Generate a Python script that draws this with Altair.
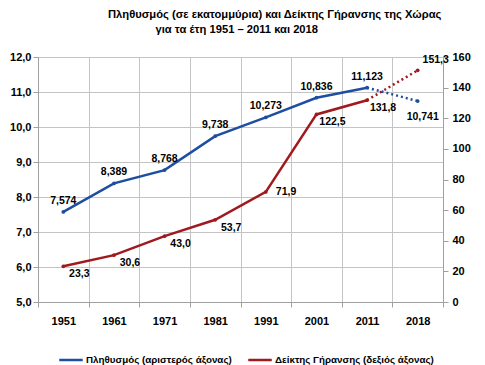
import altair as alt
import pandas as pd

years = ["1951", "1961", "1971", "1981", "1991", "2001", "2011", "2018"]
population = [7.574, 8.389, 8.768, 9.738, 10.273, 10.836, 11.123, 10.741]
aging = [23.3, 30.6, 43.0, 53.7, 71.9, 122.5, 131.8, 151.3]
pop_name = "Πληθυσμός (αριστερός άξονας)"
age_name = "Δείκτης Γήρανσης (δεξιός άξονας)"
title_1 = "Πληθυσμός (σε εκατομμύρια) και Δείκτης Γήρανσης της Χώρας"
title_2 = "για τα έτη 1951 – 2011 και 2018"

BLUE = "#1D4EA0"
RED = "#A0191E"
FONT = "Liberation Sans"
LAB = 10.5
TFS = 11.2

pop_df = pd.DataFrame({"year": years, "value": population, "series": pop_name})
age_df = pd.DataFrame({"year": years, "value": aging, "series": age_name})

x_enc = alt.X(
    "year:O",
    sort=years,
    title=None,
    scale=alt.Scale(type="band", paddingInner=0, paddingOuter=0),
    axis=alt.Axis(
        tickBand="extent", grid=True, gridColor="#c4c4c4", domainColor="#a0a0a0",
        tickColor="#a0a0a0", tickSize=5, labelAngle=0, labelPadding=8,
        labelFontWeight="bold", labelFontSize=11, labelColor="#000",
    ),
)

color_scale = alt.Scale(domain=[pop_name, age_name], range=[BLUE, RED])
legend = alt.Legend(
    title=None, orient="none", legendX=20, legendY=290, direction="horizontal",
    symbolType="stroke", symbolStrokeWidth=2.5, symbolSize=550, labelFontSize=9.8,
    labelFontWeight="bold", labelColor="#000", columnPadding=11, labelLimit=300,
    labelOffset=2,
)

# ---- population (left axis)
y_left = alt.Y(
    "value:Q",
    scale=alt.Scale(domain=[5, 12], nice=False, zero=False),
    axis=alt.Axis(
        orient="left", values=[5, 6, 7, 8, 9, 10, 11, 12], grid=True,
        gridColor="#c4c4c4", domainColor="#a0a0a0", tickColor="#a0a0a0",
        tickSize=5, labelPadding=2, labelFontWeight="bold", labelFontSize=11,
        labelColor="#000",
        labelExpr="replace(format(datum.value, '.1f'), '.', ',')",
        title=title_2, titleAngle=0, titleX=117, titleY=-28, titleAlign="left",
        titleBaseline="middle", titleFontSize=TFS, titleFontWeight="bold",
        titleColor="#000", titleFont=FONT,
    ),
)
pbase = alt.Chart(pop_df).encode(x=x_enc, y=y_left)
p_solid = pbase.transform_filter("datum.year != '2018'").mark_line(strokeWidth=2.5).encode(
    color=alt.Color("series:N", scale=color_scale, legend=legend)
)
p_dot = pbase.transform_filter("datum.year == '2011' || datum.year == '2018'").mark_line(
    strokeWidth=2.5, strokeDash=[2, 3], color=BLUE
)
p_pts = pbase.mark_point(filled=True, size=14, color=BLUE, opacity=1)
p_txt = pbase.transform_calculate(
    lbl="replace(format(datum.value, '.3f'), '.', ',')"
)
p_lab_up = p_txt.transform_filter("datum.year != '2018'").mark_text(
    dy=-11, fontWeight="bold", fontSize=LAB, font=FONT, color="#000"
).encode(text="lbl:N")
p_lab_dn = p_txt.transform_filter("datum.year == '2018'").mark_text(
    dx=5, dy=16, fontWeight="bold", fontSize=LAB, font=FONT, color="#000"
).encode(text="lbl:N")
left = alt.layer(p_solid, p_dot, p_pts, p_lab_up, p_lab_dn)

# ---- aging index (right axis)
y_right = alt.Y(
    "value:Q", title=None,
    scale=alt.Scale(domain=[0, 160], nice=False),
    axis=alt.Axis(
        orient="right", values=[0, 20, 40, 60, 80, 100, 120, 140, 160], grid=False,
        domainColor="#a0a0a0", tickColor="#a0a0a0", tickSize=5, labelPadding=4,
        labelFontWeight="bold", labelFontSize=11, labelColor="#000",
    ),
)
abase = alt.Chart(age_df).encode(x=x_enc, y=y_right)
a_solid = abase.transform_filter("datum.year != '2018'").mark_line(strokeWidth=2.5).encode(
    color=alt.Color("series:N", scale=color_scale, legend=legend)
)
a_dot = abase.transform_filter("datum.year == '2011' || datum.year == '2018'").mark_line(
    strokeWidth=2.5, strokeDash=[2, 3], color=RED
)
a_pts = abase.mark_point(filled=True, size=14, color=RED, opacity=1)
a_txt = abase.transform_calculate(
    lbl="replace(format(datum.value, '.1f'), '.', ',')"
)
a_lab_dn = a_txt.transform_filter(
    "datum.year != '1991' && datum.year != '2018'"
).mark_text(dx=16, dy=8, fontWeight="bold", fontSize=LAB, font=FONT, color="#000").encode(text="lbl:N")
a_lab_r = a_txt.transform_filter("datum.year == '1991'").mark_text(
    dx=10, align="left", fontWeight="bold", fontSize=LAB, font=FONT, color="#000"
).encode(text="lbl:N")
a_lab_up = a_txt.transform_filter("datum.year == '2018'").mark_text(
    dx=18, dy=-10, fontWeight="bold", fontSize=LAB, font=FONT, color="#000"
).encode(text="lbl:N")
right = alt.layer(a_solid, a_dot, a_pts, a_lab_dn, a_lab_r, a_lab_up)

chart = (
    alt.layer(left, right)
    .resolve_scale(y="independent")
    .properties(
        width=405,
        height=245,
        autosize=alt.AutoSizeParams(type="none"),
        padding={"left": 30, "top": 49, "right": 34, "bottom": 72},
        title=alt.TitleParams(
            text=title_1,
            anchor="start",
            frame="group",
            dx=70,
            offset=3,
            fontSize=TFS,
            fontWeight="bold",
            font=FONT,
            color="#000",
        ),
    )
    .configure_view(fill="#e8e8e8", strokeWidth=0)
    .configure(font=FONT)
)

chart.save("out.html", embed_options={"renderer": "svg", "actions": False})
